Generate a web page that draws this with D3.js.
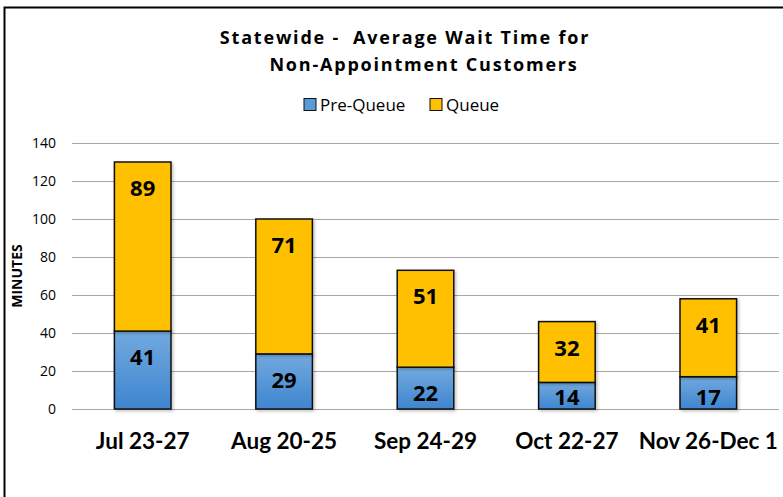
<!DOCTYPE html>
<html>
<head>
<meta charset="utf-8">
<script src="https://cdn.jsdelivr.net/npm/d3@7"></script>
<style>
  body { margin: 0; background: #fff; }
  svg { display: block; font-family: "Open Sans", "Liberation Sans", sans-serif; }
</style>
</head>
<body>
<div id="chart"></div>
<script>
var categories = ["Jul 23-27", "Aug 20-25", "Sep 24-29", "Oct 22-27", "Nov 26-Dec 1"];
var preQueue = [41, 29, 22, 14, 17];
var queue = [89, 71, 51, 32, 41];
var yTicks = [0, 20, 40, 60, 80, 100, 120, 140];
var seriesNames = ["Pre-Queue", "Queue"];

var width = 783, height = 497;
var margin = { top: 143, right: 4, bottom: 88, left: 72 };

var svg = d3.select("#chart").append("svg")
  .attr("width", width)
  .attr("height", height);

var defs = svg.append("defs");
var grad = defs.append("linearGradient")
  .attr("id", "blueGrad")
  .attr("x1", 0).attr("y1", 0).attr("x2", 0).attr("y2", 1);
grad.append("stop").attr("offset", "0%").attr("stop-color", "#72a9df");
grad.append("stop").attr("offset", "100%").attr("stop-color", "#3e86cf");

var shadow = defs.append("filter").attr("id", "shadow")
  .attr("x", "-20%").attr("y", "-20%").attr("width", "140%").attr("height", "140%");
shadow.append("feDropShadow")
  .attr("dx", 1.5).attr("dy", 1.5).attr("stdDeviation", 1.5)
  .attr("flood-color", "#000").attr("flood-opacity", 0.25);

// outer frame
svg.append("path")
  .attr("d", "M4.5," + height + " V7.5 H" + width)
  .attr("fill", "none")
  .attr("stroke", "#000")
  .attr("stroke-width", 2);

var x = d3.scaleBand()
  .domain(categories)
  .range([margin.left, width - margin.right])
  .paddingInner(0.6)
  .paddingOuter(0.3);

var y = d3.scaleLinear()
  .domain([0, 140])
  .range([height - margin.bottom, margin.top]);

// gridlines
svg.append("g")
  .selectAll("line")
  .data(yTicks)
  .join("line")
  .attr("x1", margin.left)
  .attr("x2", width - margin.right)
  .attr("y1", function(d) { return Math.round(y(d)) + 0.5; })
  .attr("y2", function(d) { return Math.round(y(d)) + 0.5; })
  .attr("stroke", "#a6a6a6")
  .attr("stroke-width", 1.2);

// y tick labels
svg.append("g")
  .selectAll("text")
  .data(yTicks)
  .join("text")
  .attr("x", 56)
  .attr("y", function(d) { return y(d); })
  .attr("dy", "0.35em")
  .attr("text-anchor", "end")
  .attr("font-size", 14)
  .attr("fill", "#000")
  .text(function(d) { return d; });

// y title
svg.append("text")
  .attr("transform", "translate(22," + y(70) + ") rotate(-90)")
  .attr("text-anchor", "middle")
  .attr("font-size", 14)
  .attr("font-weight", "bold")
  .text("MINUTES");

var stacked = categories.map(function(c, i) {
  return [
    { cat: c, y0: 0, y1: preQueue[i], v: preQueue[i], fill: "url(#blueGrad)" },
    { cat: c, y0: preQueue[i], y1: preQueue[i] + queue[i], v: queue[i], fill: "#ffc000" }
  ];
});
var segs = [].concat.apply([], stacked);

var bars = svg.append("g");
bars.selectAll("rect")
  .data(segs)
  .join("rect")
  .attr("x", function(d) { return x(d.cat); })
  .attr("y", function(d) { return y(d.y1); })
  .attr("width", x.bandwidth())
  .attr("height", function(d) { return y(d.y0) - y(d.y1); })
  .attr("fill", function(d) { return d.fill; })
  .attr("stroke", "#111")
  .attr("stroke-width", 1.5)
  .attr("filter", "url(#shadow)");

// value labels (inside end, kept inside short segments)
svg.append("g")
  .selectAll("text")
  .data(segs)
  .join("text")
  .attr("x", function(d) { return x(d.cat) + x.bandwidth() / 2; })
  .attr("y", function(d) { return Math.min(y(d.y1) + 26, y(d.y0) - 12); })
  .attr("dy", "0.36em")
  .attr("text-anchor", "middle")
  .attr("font-size", 22)
  .attr("font-weight", "bold")
  .attr("fill", "#000")
  .text(function(d) { return d.v; });

// category labels
svg.append("g")
  .selectAll("text")
  .data(categories)
  .join("text")
  .attr("x", function(d) { return x(d) + x.bandwidth() / 2; })
  .attr("y", 449)
  .attr("text-anchor", "middle")
  .attr("font-size", 22.5)
  .attr("font-weight", "bold")
  .attr("font-family", "Lato, 'Open Sans', sans-serif")
  .text(function(d) { return d; });

// title
var title = svg.append("g")
  .attr("font-size", 18)
  .attr("font-weight", "bold")
  .style("letter-spacing", "1.8px");
title.append("text")
  .attr("x", 405).attr("y", 44)
  .attr("text-anchor", "middle")
  .attr("xml:space", "preserve")
  .text("Statewide -  Average Wait Time for");
title.append("text")
  .attr("x", 424).attr("y", 71)
  .attr("text-anchor", "middle")
  .text("Non-Appointment Customers");

// legend
var legendX = [304, 430];
var legendFill = ["#5b9bd5", "#ffc000"];
var legend = svg.append("g");
legend.selectAll("rect")
  .data(seriesNames)
  .join("rect")
  .attr("x", function(d, i) { return legendX[i]; })
  .attr("y", 98.5)
  .attr("width", 12)
  .attr("height", 12)
  .attr("fill", function(d, i) { return legendFill[i]; })
  .attr("stroke", "#111")
  .attr("stroke-width", 1);
legend.selectAll("text")
  .data(seriesNames)
  .join("text")
  .attr("x", function(d, i) { return legendX[i] + 16; })
  .attr("y", 110.5)
  .attr("font-size", 17)
  .attr("fill", "#000")
  .text(function(d) { return d; });
</script>
</body>
</html>
